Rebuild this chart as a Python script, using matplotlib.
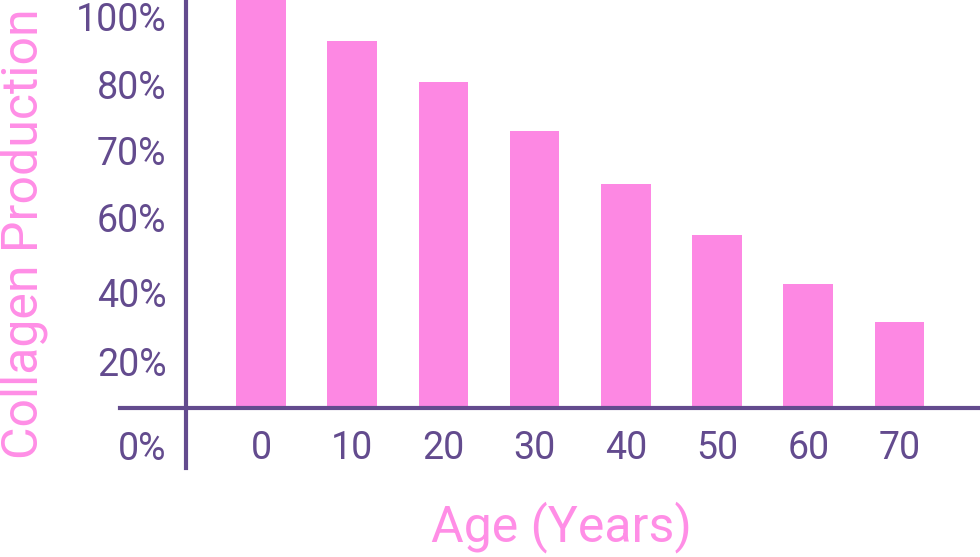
import matplotlib
matplotlib.use("Agg")
import matplotlib.pyplot as plt

# bar data (share of collagen production, % of age 0)
ages = ["0", "10", "20", "30", "40", "50", "60", "70"]
collagen = [100, 90, 80, 68, 55, 42.5, 30.5, 21]

# the y labels on the original are decorative and not on a linear scale
ytick_labels = ["100%", "80%", "70%", "60%", "40%", "20%", "0%"]
ytick_pos = [96, 79.4, 63, 46.6, 28.4, 11.5, -9.3]

PURPLE = "#634b8e"
PINK = "#fd88e3"
LABEL_PINK = "#ff8ee6"

plt.rcParams["font.family"] = ["Roboto", "DejaVu Sans"]

fig = plt.figure(figsize=(9.8, 5.57), dpi=100)
ax = fig.add_axes([120 / 980, 89 / 557, 860 / 980, 468 / 557])

x = list(range(len(ages)))
ax.bar(x, collagen, width=0.545, color=PINK, zorder=1)

# pixel layout: first bar centre ~261 px, spacing ~91.2 px
ax.set_xlim((120 - 261) / 91.2, (980 - 261) / 91.2)
ax.set_ylim(-14.7, 100)

for side in ["top", "right"]:
    ax.spines[side].set_visible(False)
ax.spines["left"].set_position(("data", (186 - 261) / 91.2))
ax.spines["bottom"].set_position(("data", 0))
for side in ["left", "bottom"]:
    ax.spines[side].set_color(PURPLE)
    ax.spines[side].set_linewidth(3)

ax.set_xticks(x)
ax.set_xticklabels(ages)
ax.set_yticks(ytick_pos)
ax.set_yticklabels(ytick_labels)
ax.tick_params(axis="both", length=0, labelsize=27, labelcolor=PURPLE)
ax.tick_params(axis="x", pad=16)
ax.tick_params(axis="y", pad=14)

fig.text(0.0, 1 - 234 / 557, "Collagen Production", rotation=90,
         ha="left", va="center", fontsize=36, color=LABEL_PINK)
fig.text(561 / 980, 1 - 527 / 557, "Age (Years)", ha="center", va="center",
         fontsize=36, color=LABEL_PINK)

fig.savefig("out.png", dpi=100)
